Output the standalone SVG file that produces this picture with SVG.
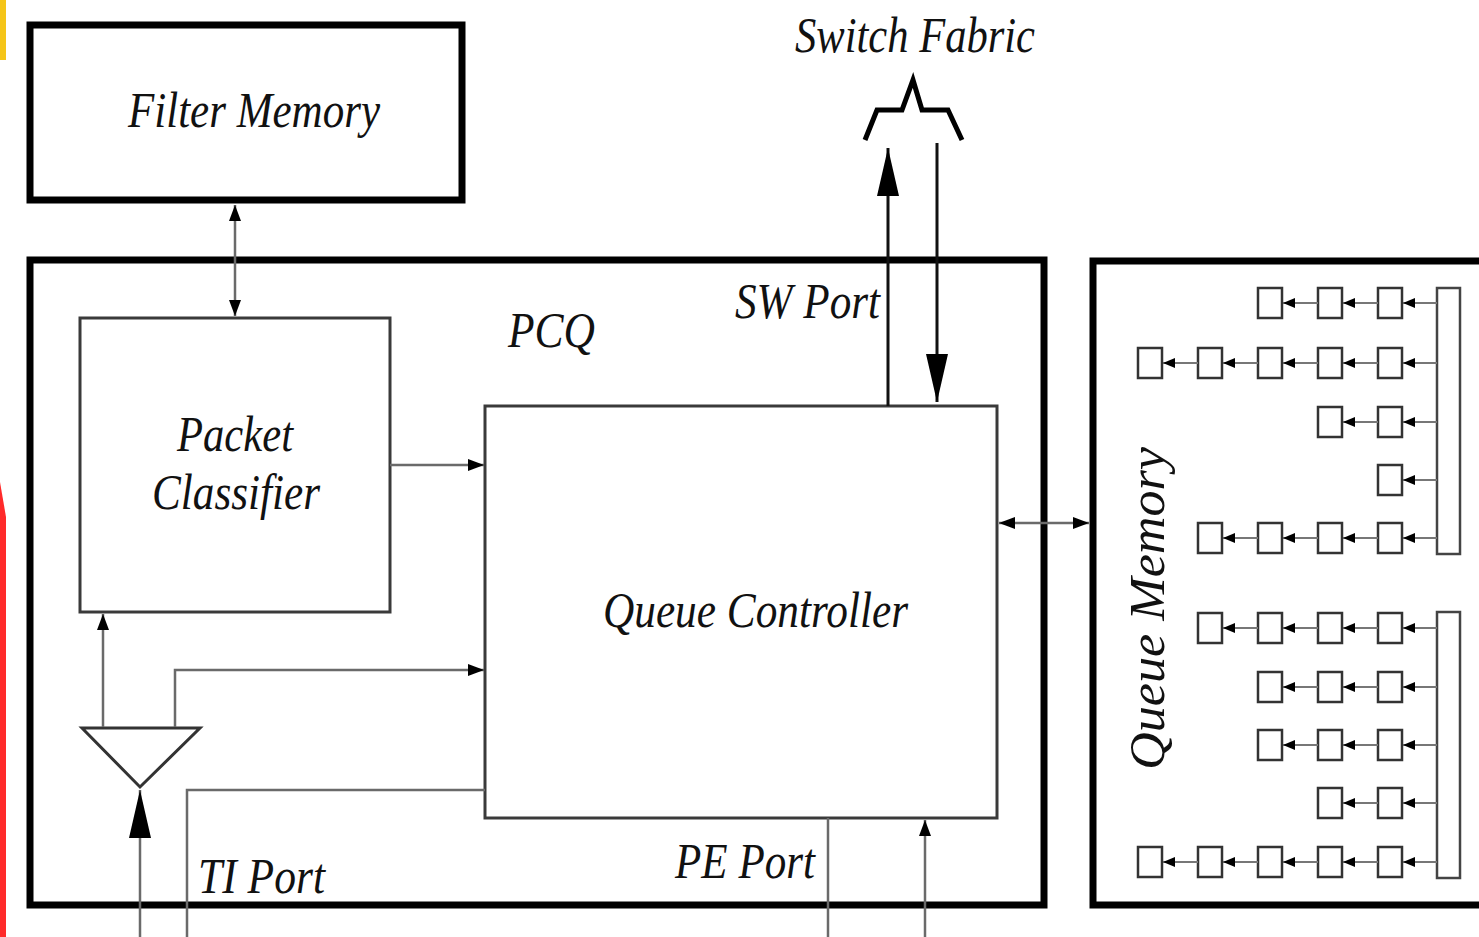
<svg xmlns="http://www.w3.org/2000/svg" width="1479" height="937" viewBox="0 0 1479 937">
<style>
.thick{fill:none;stroke:#000;stroke-width:7}
.box{fill:none;stroke:#3a3a3a;stroke-width:3}
.lbl{font-family:"Liberation Serif","Times New Roman",serif;font-style:italic;fill:#111}
.wire{fill:none;stroke:#6a6a6a;stroke-width:2.5}
.bwire{fill:none;stroke:#111;stroke-width:3}
.q{fill:#fff;stroke:#333;stroke-width:2.5}
.ql{stroke:#777;stroke-width:2}
</style>
<defs>
<marker id="sa" markerUnits="userSpaceOnUse" markerWidth="16" markerHeight="12" refX="16" refY="6" orient="auto-start-reverse"><path d="M0,0 L16,6 L0,12 z" fill="#000"/></marker>
<marker id="ba" markerUnits="userSpaceOnUse" markerWidth="48" markerHeight="22" refX="48" refY="11" orient="auto"><path d="M0,0 L48,11 L0,22 z" fill="#000"/></marker>
<marker id="ta" markerUnits="userSpaceOnUse" markerWidth="12" markerHeight="10" refX="12" refY="5" orient="auto"><path d="M0,0 L12,5 L0,10 z" fill="#000"/></marker>
</defs>
<rect width="1479" height="937" fill="#fff"/>
<rect x="0" y="0" width="6" height="60" fill="#f5c518"/>
<path d="M0,482 L6,517 L6,937 L0,937 z" fill="#ff2a2a"/>

<g id="filter-memory">
<rect class="thick" x="30" y="25" width="432" height="175"/>
<text class="lbl" x="128" y="127" font-size="50" textLength="252" lengthAdjust="spacingAndGlyphs">Filter Memory</text>
</g>

<g id="pcq">
<rect class="thick" x="30" y="260" width="1014" height="645"/>
<text class="lbl" x="508" y="347" font-size="50" textLength="87" lengthAdjust="spacingAndGlyphs">PCQ</text>
<text class="lbl" x="735" y="318" font-size="50" textLength="145" lengthAdjust="spacingAndGlyphs">SW Port</text>
<text class="lbl" x="198" y="893" font-size="50" textLength="127" lengthAdjust="spacingAndGlyphs">TI Port</text>
<text class="lbl" x="675" y="878" font-size="50" textLength="140" lengthAdjust="spacingAndGlyphs">PE Port</text>
</g>

<g id="packet-classifier">
<rect class="box" x="80" y="318" width="310" height="294"/>
<text class="lbl" x="177" y="451" font-size="50" textLength="116" lengthAdjust="spacingAndGlyphs">Packet</text>
<text class="lbl" x="152" y="509" font-size="50" textLength="168" lengthAdjust="spacingAndGlyphs">Classifier</text>
</g>

<g id="queue-controller">
<rect class="box" x="485" y="406" width="512" height="412"/>
<text class="lbl" x="603" y="627" font-size="50" textLength="305" lengthAdjust="spacingAndGlyphs">Queue Controller</text>
</g>

<g id="splitter">
<polygon points="82,728 200,728 140,787" fill="#fff" stroke="#333" stroke-width="3"/>
</g>

<g id="switch-fabric">
<path d="M865,140 L877,110 L902,110 L913,80 L922,110 L948,110 L962,140" fill="none" stroke="#000" stroke-width="5" stroke-linejoin="miter"/>
<text class="lbl" x="795" y="52" font-size="50" textLength="240" lengthAdjust="spacingAndGlyphs">Switch Fabric</text>
</g>

<g id="queue-memory">
<rect class="thick" x="1093" y="261" width="400" height="644"/>
<text class="lbl" transform="translate(1164,770) rotate(-90)" x="0" y="0" font-size="50" textLength="323" lengthAdjust="spacingAndGlyphs">Queue Memory</text>
<rect x="1437" y="288" width="23" height="266" fill="#fff" stroke="#444" stroke-width="2.5"/>
<rect x="1437" y="612" width="23" height="266" fill="#fff" stroke="#444" stroke-width="2.5"/>
<g>
<rect class="q" x="1378" y="288" width="24" height="30"/><rect class="q" x="1318" y="288" width="24" height="30"/><rect class="q" x="1258" y="288" width="24" height="30"/>
<line class="ql" x1="1437" y1="303" x2="1403" y2="303" marker-end="url(#ta)"/><line class="ql" x1="1378" y1="303" x2="1343" y2="303" marker-end="url(#ta)"/><line class="ql" x1="1318" y1="303" x2="1283" y2="303" marker-end="url(#ta)"/>
</g>
<g>
<rect class="q" x="1378" y="348" width="24" height="30"/><rect class="q" x="1318" y="348" width="24" height="30"/><rect class="q" x="1258" y="348" width="24" height="30"/><rect class="q" x="1198" y="348" width="24" height="30"/><rect class="q" x="1138" y="348" width="24" height="30"/>
<line class="ql" x1="1437" y1="363" x2="1403" y2="363" marker-end="url(#ta)"/><line class="ql" x1="1378" y1="363" x2="1343" y2="363" marker-end="url(#ta)"/><line class="ql" x1="1318" y1="363" x2="1283" y2="363" marker-end="url(#ta)"/><line class="ql" x1="1258" y1="363" x2="1223" y2="363" marker-end="url(#ta)"/><line class="ql" x1="1198" y1="363" x2="1163" y2="363" marker-end="url(#ta)"/>
</g>
<g>
<rect class="q" x="1378" y="407" width="24" height="30"/><rect class="q" x="1318" y="407" width="24" height="30"/>
<line class="ql" x1="1437" y1="422" x2="1403" y2="422" marker-end="url(#ta)"/><line class="ql" x1="1378" y1="422" x2="1343" y2="422" marker-end="url(#ta)"/>
</g>
<g>
<rect class="q" x="1378" y="465" width="24" height="30"/>
<line class="ql" x1="1437" y1="480" x2="1403" y2="480" marker-end="url(#ta)"/>
</g>
<g>
<rect class="q" x="1378" y="523" width="24" height="30"/><rect class="q" x="1318" y="523" width="24" height="30"/><rect class="q" x="1258" y="523" width="24" height="30"/><rect class="q" x="1198" y="523" width="24" height="30"/>
<line class="ql" x1="1437" y1="538" x2="1403" y2="538" marker-end="url(#ta)"/><line class="ql" x1="1378" y1="538" x2="1343" y2="538" marker-end="url(#ta)"/><line class="ql" x1="1318" y1="538" x2="1283" y2="538" marker-end="url(#ta)"/><line class="ql" x1="1258" y1="538" x2="1223" y2="538" marker-end="url(#ta)"/>
</g>
<g>
<rect class="q" x="1378" y="613" width="24" height="30"/><rect class="q" x="1318" y="613" width="24" height="30"/><rect class="q" x="1258" y="613" width="24" height="30"/><rect class="q" x="1198" y="613" width="24" height="30"/>
<line class="ql" x1="1437" y1="628" x2="1403" y2="628" marker-end="url(#ta)"/><line class="ql" x1="1378" y1="628" x2="1343" y2="628" marker-end="url(#ta)"/><line class="ql" x1="1318" y1="628" x2="1283" y2="628" marker-end="url(#ta)"/><line class="ql" x1="1258" y1="628" x2="1223" y2="628" marker-end="url(#ta)"/>
</g>
<g>
<rect class="q" x="1378" y="672" width="24" height="30"/><rect class="q" x="1318" y="672" width="24" height="30"/><rect class="q" x="1258" y="672" width="24" height="30"/>
<line class="ql" x1="1437" y1="687" x2="1403" y2="687" marker-end="url(#ta)"/><line class="ql" x1="1378" y1="687" x2="1343" y2="687" marker-end="url(#ta)"/><line class="ql" x1="1318" y1="687" x2="1283" y2="687" marker-end="url(#ta)"/>
</g>
<g>
<rect class="q" x="1378" y="730" width="24" height="30"/><rect class="q" x="1318" y="730" width="24" height="30"/><rect class="q" x="1258" y="730" width="24" height="30"/>
<line class="ql" x1="1437" y1="745" x2="1403" y2="745" marker-end="url(#ta)"/><line class="ql" x1="1378" y1="745" x2="1343" y2="745" marker-end="url(#ta)"/><line class="ql" x1="1318" y1="745" x2="1283" y2="745" marker-end="url(#ta)"/>
</g>
<g>
<rect class="q" x="1378" y="788" width="24" height="30"/><rect class="q" x="1318" y="788" width="24" height="30"/>
<line class="ql" x1="1437" y1="803" x2="1403" y2="803" marker-end="url(#ta)"/><line class="ql" x1="1378" y1="803" x2="1343" y2="803" marker-end="url(#ta)"/>
</g>
<g>
<rect class="q" x="1378" y="847" width="24" height="30"/><rect class="q" x="1318" y="847" width="24" height="30"/><rect class="q" x="1258" y="847" width="24" height="30"/><rect class="q" x="1198" y="847" width="24" height="30"/><rect class="q" x="1138" y="847" width="24" height="30"/>
<line class="ql" x1="1437" y1="862" x2="1403" y2="862" marker-end="url(#ta)"/><line class="ql" x1="1378" y1="862" x2="1343" y2="862" marker-end="url(#ta)"/><line class="ql" x1="1318" y1="862" x2="1283" y2="862" marker-end="url(#ta)"/><line class="ql" x1="1258" y1="862" x2="1223" y2="862" marker-end="url(#ta)"/><line class="ql" x1="1198" y1="862" x2="1163" y2="862" marker-end="url(#ta)"/>
</g>
</g>

<g id="connectors">
<line class="wire" x1="235" y1="205" x2="235" y2="316" marker-start="url(#sa)" marker-end="url(#sa)"/>
<line class="wire" x1="390" y1="465" x2="484" y2="465" marker-end="url(#sa)"/>
<line class="wire" x1="103" y1="727" x2="103" y2="614" marker-end="url(#sa)"/>
<polyline class="wire" points="175,727 175,670 484,670" marker-end="url(#sa)"/>
<line class="wire" x1="140" y1="937" x2="140" y2="790" marker-end="url(#ba)"/>
<polyline class="wire" points="485,790 187,790 187,937"/>
<line class="bwire" x1="888" y1="406" x2="888" y2="148" marker-end="url(#ba)"/>
<line class="bwire" x1="937" y1="143" x2="937" y2="402" marker-end="url(#ba)"/>
<line class="wire" x1="999" y1="523" x2="1089" y2="523" marker-start="url(#sa)" marker-end="url(#sa)"/>
<line class="wire" x1="828" y1="818" x2="828" y2="937"/>
<line class="wire" x1="925" y1="937" x2="925" y2="820" marker-end="url(#sa)"/>
</g>
</svg>
